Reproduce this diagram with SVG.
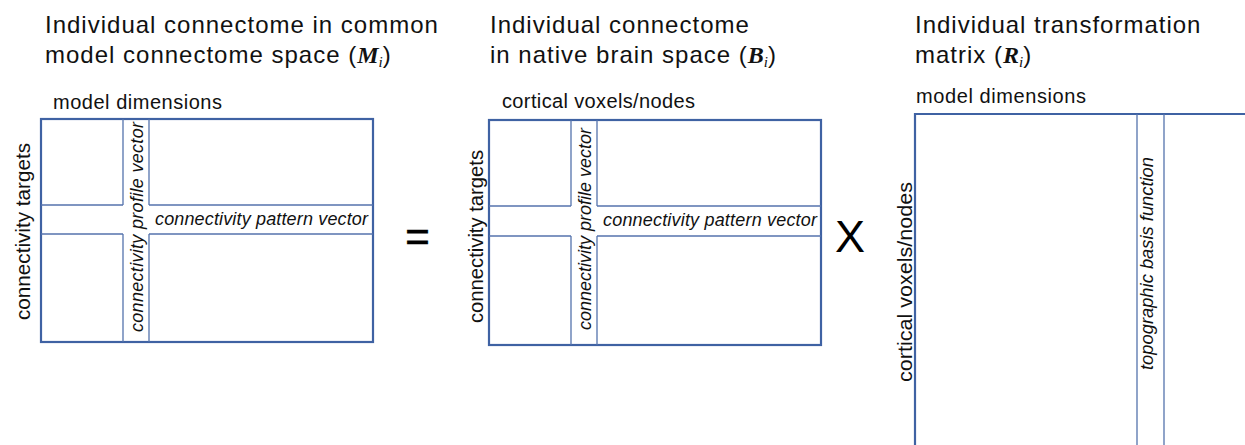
<svg xmlns="http://www.w3.org/2000/svg" width="1245" height="445" viewBox="0 0 1245 445">
<style>
.title{font-family:"Liberation Sans",Arial,sans-serif;font-size:24px;letter-spacing:1px;fill:#111}
.math{font-family:"Liberation Serif","Times New Roman",serif;font-style:italic;font-weight:bold;letter-spacing:0}
.sub{font-family:"Liberation Serif","Times New Roman",serif;font-style:italic;font-size:15px;letter-spacing:0}
.lab{font-family:"Liberation Sans",Arial,sans-serif;font-size:20px;fill:#111}
.ital{font-family:"Liberation Sans",Arial,sans-serif;font-size:18px;font-style:italic;fill:#111}
.outer{fill:none;stroke:#3f62a3;stroke-width:2.2}
.inner{fill:none;stroke:#5573ad;stroke-width:1.3}
.op{font-family:"Liberation Sans",Arial,sans-serif;fill:#000;text-anchor:middle}
</style>
<rect width="1245" height="445" fill="#fff"/>

<g id="matrix-M">
<text class="title" x="45" y="33">Individual connectome in common</text>
<text class="title" x="45" y="63">model connectome space (<tspan class="math">M</tspan><tspan class="sub" dy="4">i</tspan><tspan dy="-4">)</tspan></text>
<text class="lab" x="53" y="109" textLength="169" lengthAdjust="spacing">model dimensions</text>
<rect class="outer" x="41" y="119" width="332" height="223"/>
<path class="inner" d="M123 119V205M149 119V205M123 234V342M149 234V342M41 205H123M149 205H373M41 234H123M149 234H373"/>
<text class="lab" font-size="21" transform="translate(29.5 320) rotate(-90)" textLength="177" lengthAdjust="spacingAndGlyphs">connectivity targets</text>
<text class="ital" transform="translate(143 332) rotate(-90)" textLength="210" lengthAdjust="spacing">connectivity profile vector</text>
<text class="ital" x="155" y="225" textLength="213" lengthAdjust="spacing">connectivity pattern vector</text>
</g>

<g id="matrix-B">
<text class="title" x="490" y="33">Individual connectome</text>
<text class="title" x="490" y="63">in native brain space (<tspan class="math">B</tspan><tspan class="sub" dy="4">i</tspan><tspan dy="-4">)</tspan></text>
<text class="lab" x="502" y="108" textLength="193" lengthAdjust="spacing">cortical voxels/nodes</text>
<rect class="outer" x="489" y="120" width="332" height="225"/>
<path class="inner" d="M571 120V206M597 120V206M571 236V345M597 236V345M489 206H571M597 206H821M489 236H571M597 236H821"/>
<text class="lab" font-size="21" transform="translate(482.5 323) rotate(-90)" textLength="173" lengthAdjust="spacingAndGlyphs">connectivity targets</text>
<text class="ital" transform="translate(591 330) rotate(-90)" textLength="202" lengthAdjust="spacing">connectivity profile vector</text>
<text class="ital" x="603" y="226" textLength="214" lengthAdjust="spacing">connectivity pattern vector</text>
</g>

<g id="matrix-R">
<text class="title" x="915" y="33">Individual transformation</text>
<text class="title" x="915" y="63">matrix (<tspan class="math">R</tspan><tspan class="sub" dy="4">i</tspan><tspan dy="-4">)</tspan></text>
<text class="lab" x="916" y="103" textLength="170" lengthAdjust="spacing">model dimensions</text>
<path class="outer" d="M915 446V114H1246"/>
<path class="inner" d="M1137 114V446M1164 114V446"/>
<text class="lab" font-size="22" transform="translate(912 382) rotate(-90)" textLength="200" lengthAdjust="spacingAndGlyphs">cortical voxels/nodes</text>
<text class="ital" font-size="16" transform="translate(1153 370) rotate(-90)" textLength="213" lengthAdjust="spacingAndGlyphs">topographic basis function</text>
</g>

<g id="connectors">
<text class="op" x="417.5" y="251" font-size="42" stroke="#000" stroke-width="0.6">=</text>
<text class="op" x="850" y="252" font-size="45">X</text>
</g>
</svg>
